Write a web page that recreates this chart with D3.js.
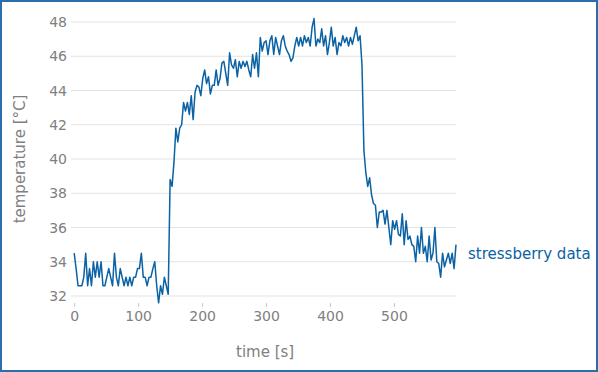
<!DOCTYPE html>
<html>
<head>
<meta charset="utf-8">
<script src="https://cdn.jsdelivr.net/npm/d3@7"></script>
<style>
  body { margin: 0; background: #fff; }
  svg { display: block; font-family: "DejaVu Sans", sans-serif; }
</style>
</head>
<body>
<div id="chart"></div>
<script>
// sampling interval of the temperature log, seconds
let sampleStep = 3;

// temperature [°C], one reading every sampleStep seconds starting at t = 0
let idleValues = [
    34.5, 33.6, 32.6, 32.6, 32.6, 33.1, 34.5, 32.6, 33.6, 32.6,
    34.0, 33.1, 34.0, 33.1, 34.0, 32.6, 32.6, 33.1, 33.6, 33.1,
    32.6, 34.5, 33.1, 32.6, 33.6, 33.1, 32.6, 33.1, 32.6, 33.1,
    32.6, 33.1, 33.1, 33.6, 33.6, 34.5, 33.1, 33.1, 32.6, 33.1,
    33.1, 33.6, 34.0, 32.6, 31.6, 32.6, 32.1, 33.1, 32.6, 32.1
];
let riseValues = [
    38.8, 38.4, 39.8, 41.8, 41.0, 41.8, 42.0, 43.3, 42.8, 43.3,
    42.6, 43.7, 42.3, 43.9, 44.3, 44.2, 43.7, 44.7, 45.2, 44.4,
    44.8, 43.8, 44.3, 44.3, 45.2, 44.3, 44.7, 45.6, 45.7, 45.0,
    44.3, 46.2, 45.5, 45.3, 45.8, 44.8, 45.7, 45.3, 45.7, 45.4,
    45.7, 45.2, 44.8, 46.1, 45.3, 46.2, 44.8
];
let stressValues = [
    47.1, 46.3, 46.8, 46.9, 46.1, 46.9, 47.2, 46.1, 47.1, 46.6,
    46.1, 46.9, 47.2, 46.6, 46.3, 46.1, 45.7, 45.9, 46.6, 47.1,
    46.6, 47.1, 46.6, 47.2, 46.8, 47.1, 46.6, 47.7, 48.2, 46.6,
    47.0, 46.8, 47.6, 46.6, 47.2, 46.1, 46.8, 47.7, 46.6, 47.1,
    46.1, 46.8, 46.6, 47.2, 46.8, 47.1, 46.6, 47.1, 46.7, 47.2,
    47.7, 46.9, 47.2
];
let coolValues = [
    45.5, 40.5, 39.2, 38.4, 38.9, 37.9, 37.4, 37.3, 36.0, 36.9,
    36.9, 37.0, 36.2, 37.0, 36.0, 35.0, 36.4, 35.9, 36.4, 35.6,
    35.5, 36.8, 35.0, 36.4, 35.3, 35.5, 35.0, 34.9, 34.0, 35.5,
    34.5, 36.0, 34.5, 34.9, 34.0, 35.5, 34.1, 34.5, 36.0, 34.0,
    33.9, 33.1, 34.5, 33.7, 34.1, 34.5, 33.9, 34.5, 33.6, 35.0
];

let xTicks = [0, 100, 200, 300, 400, 500];
let yTicks = [32, 34, 36, 38, 40, 42, 44, 46, 48];
let seriesName = "stressberry data";
let xLabel = "time [s]";
let yLabel = "temperature [°C]";

let width = 598, height = 372;
let lineColor = "#0b62a4";
let textColor = "#808080";
let gridColor = "#e3e3e3";

let temps = idleValues.concat(riseValues, stressValues, coolValues);
let data = temps.map((v, i) => ({t: i * sampleStep, v: v}));

let svg = d3.select("#chart").append("svg")
    .attr("width", width)
    .attr("height", height);

svg.append("rect")
    .attr("x", 1).attr("y", 1)
    .attr("width", width - 2).attr("height", height - 2)
    .style("fill", "#fff")
    .style("stroke", "#2a6eae")
    .style("stroke-width", "2px");

let x = d3.scaleLinear().domain([-5, d3.max(data, d => d.t)]).range([71, 456]);
let y = d3.scaleLinear().domain([32, 48]).range([296, 22]);

// horizontal grid
svg.append("g").selectAll("line").data(yTicks).enter().append("line")
    .attr("x1", x.range()[0]).attr("x2", x.range()[1])
    .attr("y1", d => y(d)).attr("y2", d => y(d))
    .style("stroke", gridColor)
    .style("stroke-width", "1px");

// y tick labels
svg.append("g").selectAll("text").data(yTicks).enter().append("text")
    .attr("x", 67)
    .attr("y", d => y(d))
    .attr("dy", "0.36em")
    .attr("text-anchor", "end")
    .style("fill", textColor)
    .style("font-size", "14px")
    .text(d => d);

// x axis: small ticks + labels, no domain line
let xAxis = svg.append("g")
    .attr("transform", "translate(0," + 303 + ")")
    .call(d3.axisBottom(x).tickValues(xTicks).tickSize(4).tickPadding(4));
xAxis.select(".domain").remove();
xAxis.selectAll(".tick line").style("stroke", "#c8c8c8");
xAxis.selectAll(".tick text")
    .style("fill", textColor)
    .style("font-size", "14px")
    .style("font-family", "DejaVu Sans, sans-serif");

svg.append("text")
    .attr("x", (x(0) + x.range()[1]) / 2)
    .attr("y", 357)
    .attr("text-anchor", "middle")
    .style("fill", textColor)
    .style("font-size", "15px")
    .text(xLabel);

svg.append("text")
    .attr("transform", "translate(25," + (y(40)) + ") rotate(-90)")
    .attr("text-anchor", "middle")
    .style("fill", textColor)
    .style("font-size", "15px")
    .text(yLabel);

let line = d3.line()
    .x(d => x(d.t))
    .y(d => y(d.v));

svg.append("path")
    .datum(data)
    .attr("d", line)
    .style("fill", "none")
    .style("stroke", lineColor)
    .style("stroke-width", "1.5px")
    .style("stroke-linejoin", "round");

// series label next to the end of the line
let tail = d3.mean(temps.slice(-8));
svg.append("text")
    .attr("x", x.range()[1] + 12)
    .attr("y", y(tail))
    .attr("dy", "0.1em")
    .style("fill", lineColor)
    .style("font-size", "15px")
    .text(seriesName);
</script>
</body>
</html>
